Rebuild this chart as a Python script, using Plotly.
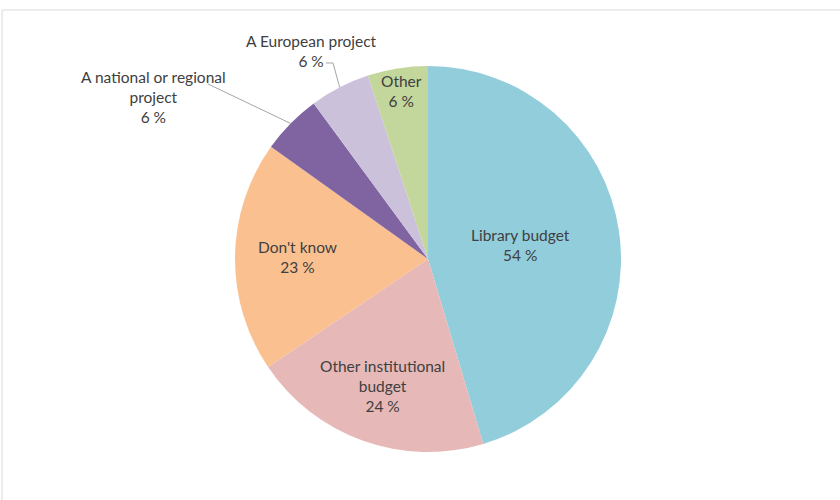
import math
import plotly.graph_objects as go

# Funding sources (multiple answers allowed, so the shares sum above 100 %)
categories = [
    "Library budget",
    "Other institutional budget",
    "Don't know",
    "A national or regional project",
    "A European project",
    "Other",
]
shares = [54, 24, 23, 6, 6, 6]
label_lines = [
    "Library budget",
    "Other institutional<br>budget",
    "Don't know",
    "A national or regional<br>project",
    "A European project",
    "Other",
]
colors = ["#92CDDC", "#E6B9B8", "#FAC090", "#8064A2", "#CCC1DA", "#C3D69B"]

W, H = 840, 500
CX, CY, R = 428, 259, 193          # pie centre and radius in pixels
TEXT_COLOR = "#404040"
LEADER_COLOR = "#a6a6a6"
FONT = "Lato"
FONT_SIZE = 15.5

# how far along the mid-angle each inside label sits (fraction of radius)
inside_radius = {0: 0.485, 1: 0.70, 2: 0.676, 5: 0.88}
# outside labels: text centre and leader start points (pixels)
outside_text = {3: (153, 97), 4: (311, 51)}
leader_start = {3: [(208, 84)], 4: [(326, 63), (333, 63)]}


def px_to_paper(x, y):
    return x / W, 1 - y / H


fig = go.Figure(
    go.Pie(
        labels=categories,
        values=shares,
        sort=False,
        direction="clockwise",
        rotation=0,
        marker=dict(colors=colors, line=dict(width=0)),
        textinfo="none",
        hoverinfo="label+value",
        showlegend=False,
        domain=dict(
            x=[(CX - R) / W, (CX + R) / W],
            y=[1 - (CY + R) / H, 1 - (CY - R) / H],
        ),
    )
)

total = sum(shares)
annotations = []
shapes = [dict(
    type="rect", xref="paper", yref="paper",
    x0=2 / W, y0=-0.05, x1=1.05, y1=1 - 10 / H,
    line=dict(color="#d9d9d9", width=1), fillcolor="rgba(0,0,0,0)",
    layer="below",
)]

start = 0.0
for i, v in enumerate(shares):
    sweep = 360.0 * v / total
    mid = math.radians(start + sweep / 2)
    start += sweep
    text = f"{label_lines[i]}<br>{v} %"
    if i in inside_radius:
        f = inside_radius[i]
        tx = CX + f * R * math.sin(mid)
        ty = CY - f * R * math.cos(mid)
    else:
        tx, ty = outside_text[i]
        # leader line from the label to the slice edge
        hx = CX + R * math.sin(mid)
        hy = CY - R * math.cos(mid)
        pts = leader_start[i] + [(hx, hy)]
        path = ""
        for k, (px, py) in enumerate(pts):
            x, y = px_to_paper(px, py)
            path += ("M" if k == 0 else " L") + f" {x:.5f},{y:.5f}"
        shapes.append(dict(
            type="path", xref="paper", yref="paper", path=path,
            line=dict(color=LEADER_COLOR, width=1),
        ))
    x, y = px_to_paper(tx, ty)
    annotations.append(dict(
        x=x, y=y, xref="paper", yref="paper", text=text, showarrow=False,
        xanchor="center", yanchor="middle", align="center",
        font=dict(family=FONT, size=FONT_SIZE, color=TEXT_COLOR),
    ))

fig.update_layout(
    width=W,
    height=H,
    margin=dict(l=0, r=0, t=0, b=0),
    paper_bgcolor="white",
    plot_bgcolor="white",
    annotations=annotations,
    shapes=shapes,
)

fig.write_html("out.html")
